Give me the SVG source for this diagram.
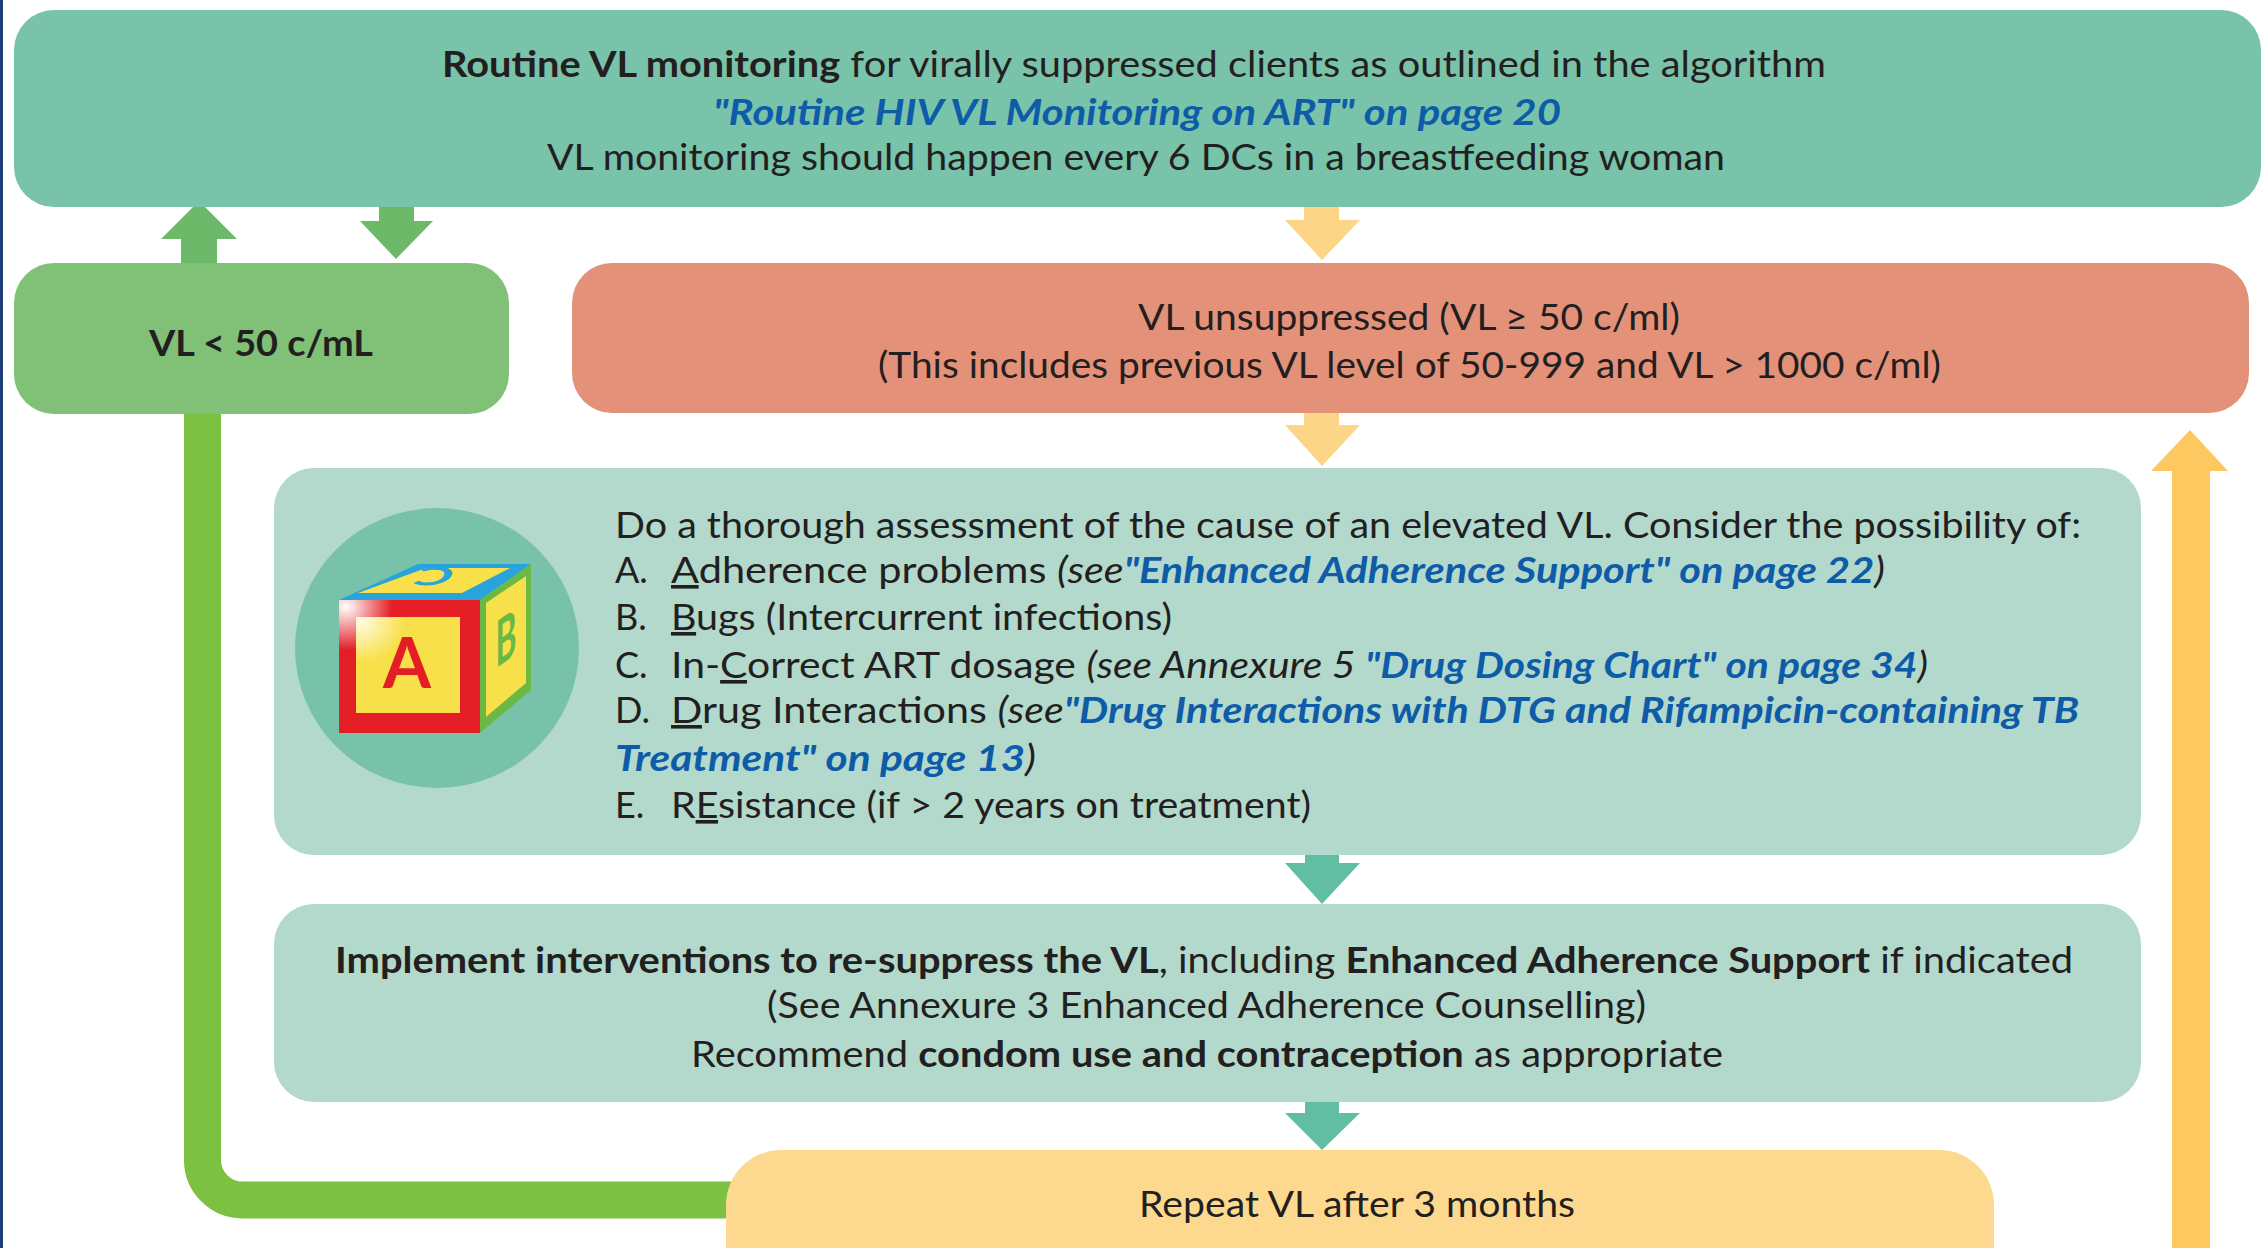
<svg xmlns="http://www.w3.org/2000/svg" width="2267" height="1248" viewBox="0 0 2267 1248">
  <style>
    .t { font-family: Lato, "Liberation Sans", sans-serif; font-size: 36px; fill: #231f20; }
    .c { text-anchor: middle; }
    .b { font-weight: 700; }
    .i { font-style: italic; }
    .lk { fill: #0e5ca8; font-weight: 700; font-style: italic; }
    .u { text-decoration: underline; }
    .arrow-green { fill: #6cb96a; }
    .arrow-yellow { fill: #fdd586; }
    .arrow-teal { fill: #62bea3; }
  </style>
  <defs>
    <radialGradient id="redShine" cx="0.05" cy="0.05" r="0.6">
      <stop offset="0" stop-color="#ffffff"/>
      <stop offset="0.55" stop-color="#e31e24"/>
      <stop offset="1" stop-color="#e31e24"/>
    </radialGradient>
    <radialGradient id="yellowShine" cx="0.05" cy="0.05" r="0.7">
      <stop offset="0" stop-color="#fffbe0"/>
      <stop offset="0.6" stop-color="#f8e04a"/>
      <stop offset="1" stop-color="#f8e04a"/>
    </radialGradient>
  </defs>

  <rect width="2267" height="1248" fill="#ffffff"/>
  <rect x="0" y="0" width="3" height="1248" fill="#1f3e77"/>

  <!-- connectors -->
  <g id="connectors">
    <!-- return loop from the repeat test back to the suppressed box -->
    <path d="M202.5,414 V1160 A40,40 0 0 0 242.5,1200 H760" fill="none" stroke="#7cc142" stroke-width="37"/>
    <!-- routine monitoring <-> suppressed -->
    <polygon class="arrow-green" points="181,263 181,239 161,239 199,201 237,239 217,239 217,263"/>
    <polygon class="arrow-green" points="379,207 414,207 414,221 433,221 396,259 360,221 379,221"/>
    <!-- routine monitoring -> unsuppressed -->
    <polygon class="arrow-yellow" points="1304,207 1339,207 1339,220 1360,220 1322,260 1285,220 1304,220"/>
    <!-- unsuppressed -> assessment -->
    <polygon class="arrow-yellow" points="1304,413 1339,413 1339,425 1360,425 1322,466 1285,425 1304,425"/>
    <!-- assessment -> interventions -->
    <polygon class="arrow-teal" points="1305,855 1339,855 1339,863 1360,863 1322,904 1285,863 1305,863"/>
    <!-- interventions -> repeat VL -->
    <polygon class="arrow-teal" points="1305,1102 1339,1102 1339,1113 1360,1113 1322,1150 1285,1113 1305,1113"/>
    <!-- repeat VL -> unsuppressed -->
    <polygon fill="#fdc85f" points="2172,1248 2172,471 2151,471 2190,430 2228,471 2210,471 2210,1248"/>
  </g>

  <!-- routine monitoring -->
  <g id="routine-monitoring">
    <rect x="14" y="10" width="2247" height="197" rx="40" fill="#78c3aa"/>
    <text class="t" x="442" y="77" textLength="1384" lengthAdjust="spacingAndGlyphs"><tspan class="b">Routine VL monitoring</tspan> for virally suppressed clients as outlined in the algorithm</text>
    <text class="t lk" x="713" y="125" textLength="848" lengthAdjust="spacingAndGlyphs">"Routine HIV VL Monitoring on ART" on page 20</text>
    <text class="t" x="547" y="170" textLength="1178" lengthAdjust="spacingAndGlyphs">VL monitoring should happen every 6 DCs in a breastfeeding woman</text>
  </g>

  <!-- suppressed -->
  <g id="vl-suppressed">
    <rect x="14" y="263" width="495" height="151" rx="40" fill="#80c077"/>
    <text class="t b" x="149" y="356" font-size="38" textLength="224" lengthAdjust="spacingAndGlyphs">VL &lt; 50 c/mL</text>
  </g>

  <!-- unsuppressed -->
  <g id="vl-unsuppressed">
    <rect x="572" y="263" width="1677" height="150" rx="40" fill="#e4917a"/>
    <text class="t" x="1138" y="330" textLength="542" lengthAdjust="spacingAndGlyphs">VL unsuppressed (VL ≥ 50 c/ml)</text>
    <text class="t" x="878" y="378" textLength="1063" lengthAdjust="spacingAndGlyphs">(This includes previous VL level of 50-999 and VL &gt; 1000 c/ml)</text>
  </g>

  <!-- assessment -->
  <g id="assessment">
    <rect x="274" y="468" width="1867" height="387" rx="40" fill="#b2d9cc"/>
    <g id="abc-block">
      <ellipse cx="437" cy="648" rx="142" ry="140" fill="#78c2aa"/>
      <polygon points="339,600 480,600 531,564 418,564" fill="#29a3dc"/>
      <polygon points="358,593 462,593 510,568 426,568" fill="#f8e04a"/>
      <text font-family="Lato, 'Liberation Sans', sans-serif" font-weight="700" font-size="56" fill="#29a3dc" text-anchor="middle" transform="translate(440,567) rotate(180) skewX(-30) scale(1,0.45)">C</text>
      <polygon points="480,600 531,564 531,690 480,733" fill="#6bb844"/>
      <polygon points="486,603 526,576 526,683 486,717" fill="#f8e04a"/>
      <text font-family="Lato, 'Liberation Sans', sans-serif" font-weight="700" font-size="64" fill="#6bb844" text-anchor="middle" transform="translate(506,661) skewY(-35) scale(0.5,1)">B</text>
      <rect x="339" y="600" width="141" height="133" fill="url(#redShine)"/>
      <rect x="356" y="617" width="104" height="96" fill="url(#yellowShine)"/>
      <text font-family="Lato, 'Liberation Sans', sans-serif" font-weight="700" font-size="70" fill="#e31e24" text-anchor="middle" x="407" y="688" textLength="48" lengthAdjust="spacingAndGlyphs">A</text>
    </g>
    <text class="t" x="615" y="538" textLength="1466" lengthAdjust="spacingAndGlyphs">Do a thorough assessment of the cause of an elevated VL. Consider the possibility of:</text>
    <text class="t" x="615" y="583">A.</text>
    <text class="t" x="671" y="583" textLength="1214" lengthAdjust="spacingAndGlyphs"><tspan class="u">A</tspan>dherence problems <tspan class="i">(see</tspan><tspan class="lk">"Enhanced Adherence Support" on page 22</tspan><tspan class="i">)</tspan></text>
    <text class="t" x="615" y="630">B.</text>
    <text class="t" x="671" y="630" textLength="501" lengthAdjust="spacingAndGlyphs"><tspan class="u">B</tspan>ugs (Intercurrent infections)</text>
    <text class="t" x="615" y="678">C.</text>
    <text class="t" x="671" y="678" textLength="1257" lengthAdjust="spacingAndGlyphs">In-<tspan class="u">C</tspan>orrect ART dosage <tspan class="i">(see Annexure 5 </tspan><tspan class="lk">"Drug Dosing Chart" on page 34</tspan><tspan class="i">)</tspan></text>
    <text class="t" x="615" y="723">D.</text>
    <text class="t" x="671" y="723" textLength="1408" lengthAdjust="spacingAndGlyphs"><tspan class="u">D</tspan>rug Interactions <tspan class="i">(see</tspan><tspan class="lk">"Drug Interactions with DTG and Rifampicin-containing TB</tspan></text>
    <text class="t" x="615" y="771" textLength="421" lengthAdjust="spacingAndGlyphs"><tspan class="lk">Treatment" on page 13</tspan><tspan class="i">)</tspan></text>
    <text class="t" x="615" y="818">E.</text>
    <text class="t" x="671" y="818" textLength="640" lengthAdjust="spacingAndGlyphs">R<tspan class="u">E</tspan>sistance (if &gt; 2 years on treatment)</text>
  </g>

  <!-- interventions -->
  <g id="interventions">
    <rect x="274" y="904" width="1867" height="198" rx="40" fill="#b2d9cc"/>
    <text class="t" x="335" y="973" textLength="1738" lengthAdjust="spacingAndGlyphs"><tspan class="b">Implement interventions to re-suppress the VL</tspan>, including <tspan class="b">Enhanced Adherence Support</tspan> if indicated</text>
    <text class="t" x="767" y="1018" textLength="879" lengthAdjust="spacingAndGlyphs">(See Annexure 3 Enhanced Adherence Counselling)</text>
    <text class="t" x="691" y="1067" textLength="1032" lengthAdjust="spacingAndGlyphs">Recommend <tspan class="b">condom use and contraception</tspan> as appropriate</text>
  </g>

  <!-- repeat VL -->
  <g id="repeat-vl">
    <rect x="726" y="1150" width="1268" height="170" rx="55" fill="#fdd98f"/>
    <text class="t" x="1139" y="1217" textLength="436" lengthAdjust="spacingAndGlyphs">Repeat VL after 3 months</text>
  </g>
</svg>
